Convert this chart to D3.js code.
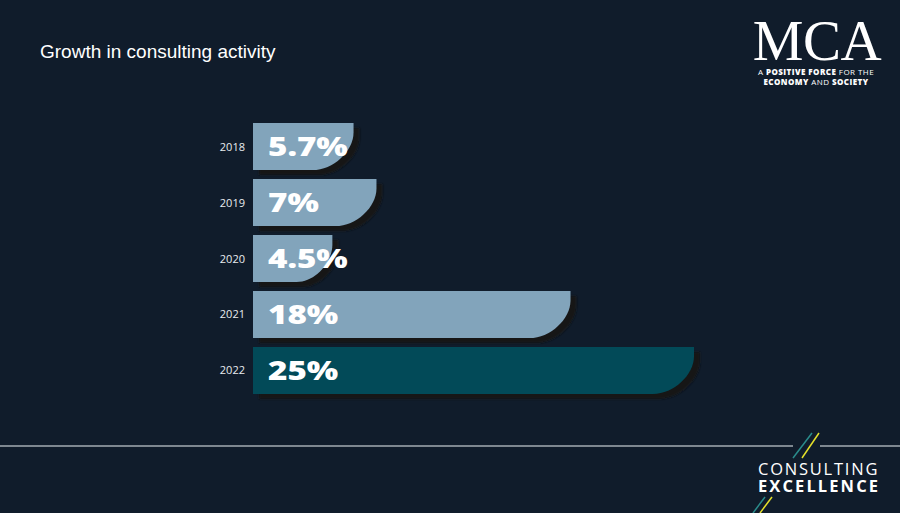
<!DOCTYPE html>
<html><head><meta charset="utf-8">
<script src="https://cdn.jsdelivr.net/npm/d3@7"></script>
<style>
html,body{margin:0;padding:0;background:#101c2b;}
svg{display:block;}
</style></head>
<body>
<script>
const years = ["2018","2019","2020","2021","2022"];
const growth = [5.7, 7, 4.5, 18, 25];
const valueLabels = ["5.7%","7%","4.5%","18%","25%"];
const highlightYear = "2022";

const W = 900, H = 513;
const svg = d3.select("body").append("svg").attr("width", W).attr("height", H);
svg.append("rect").attr("width", W).attr("height", H).attr("fill", "#101c2b");

const defs = svg.append("defs");
const f = defs.append("filter").attr("id","blur").attr("x","-10%").attr("y","-20%").attr("width","130%").attr("height","150%");
f.append("feGaussianBlur").attr("stdDeviation", 1.2);

// Title
svg.append("text").attr("x", 40).attr("y", 58)
  .attr("font-family", "Liberation Sans, Arial, sans-serif").attr("font-size", 19)
  .attr("fill", "#ffffff").text("Growth in consulting activity");

const x0 = 253;
const x = d3.scaleLinear().domain([0, 25]).range([x0, 694]);
const y = d3.scaleBand().domain(years).range([123, 394]).paddingInner(0.16).paddingOuter(0);

function barPath(w, top, h) {
  const rx = Math.min(41, w * 0.45), ry = h * 0.8;
  const k = 0.5;
  const p = d3.path();
  p.moveTo(x0, top);
  p.lineTo(x0 + w, top);
  p.lineTo(x0 + w, top + h - ry);
  p.bezierCurveTo(x0 + w, top + h - ry * (1 - k), x0 + w - rx * (1 - k), top + h, x0 + w - rx, top + h);
  p.lineTo(x0, top + h);
  p.closePath();
  return p.toString();
}

const g = svg.append("g");
const rows = years.map((yr, i) => ({ yr, v: growth[i], lab: valueLabels[i] }));

// shadows
g.selectAll("path.shadow").data(rows).join("path").attr("class", "shadow")
  .attr("d", d => barPath(x(d.v) - x0, y(d.yr), y.bandwidth()))
  .attr("transform", "translate(6,5)")
  .attr("fill", "#141619").attr("filter", "url(#blur)");

// bars
g.selectAll("path.bar").data(rows).join("path").attr("class", "bar")
  .attr("d", d => barPath(x(d.v) - x0, y(d.yr), y.bandwidth()))
  .attr("fill", d => d.yr === highlightYear ? "#024a58" : "#82a4bb");

// year labels
g.selectAll("text.yr").data(rows).join("text").attr("class", "yr")
  .attr("x", 245).attr("y", d => y(d.yr) + y.bandwidth() / 2 + 4)
  .attr("text-anchor", "end")
  .attr("font-family", "Open Sans, sans-serif").attr("font-size", 11)
  .attr("fill", "#e8ecef").text(d => d.yr);

// value labels (wide heavy type, stretched horizontally)
g.selectAll("text.val").data(rows).join("text").attr("class", "val")
  .attr("transform", d => `translate(268,${y(d.yr) + y.bandwidth() / 2 + 9.5}) scale(1.25,1)`)
  .attr("font-family", "Open Sans, sans-serif").attr("font-weight", 800)
  .attr("font-size", 26.5)
  .attr("fill", "#ffffff").text(d => d.lab);

// MCA logo
svg.append("text").attr("x", 817).attr("y", 60).attr("text-anchor", "middle")
  .attr("font-family", "Liberation Serif, serif").attr("font-size", 57)
  .attr("letter-spacing", "-0.5")
  .attr("fill", "#ffffff").text("MCA");

function richLine(parts, cx, yy) {
  const gg = svg.append("g");
  const items = parts.map(([txt, bold]) => gg.append("text")
    .attr("y", yy)
    .attr("font-family", "Open Sans, sans-serif").attr("font-size", 8)
    .attr("letter-spacing", "0.45")
    .attr("font-weight", bold ? 800 : 400)
    .attr("fill", "#ffffff").text(txt));
  const widths = items.map(t => t.node().getComputedTextLength());
  const gap = 2.5;
  const total = d3.sum(widths) + gap * (items.length - 1);
  let cur = cx - total / 2;
  items.forEach((t, i) => { t.attr("x", cur); cur += widths[i] + gap; });
}
richLine([["A", false], ["POSITIVE FORCE", true], ["FOR THE", false]], 816, 74.5);
richLine([["ECONOMY", true], ["AND", false], ["SOCIETY", true]], 816, 85);

// footer line
svg.append("line").attr("x1", 0).attr("x2", 793).attr("y1", 446).attr("y2", 446)
  .attr("stroke", "#a3abb3").attr("stroke-width", 1.5);
svg.append("line").attr("x1", 820).attr("x2", 900).attr("y1", 446).attr("y2", 446)
  .attr("stroke", "#a3abb3").attr("stroke-width", 1.5);
// slashes
const sl = [
  [793, 458, 812, 433, "#2a8c8c"], [802, 458, 819, 433, "#e5e02a"],
  [753, 513, 765, 497, "#2a8c8c"], [760, 513, 772, 497, "#e5e02a"]
];
svg.selectAll("line.sl").data(sl).join("line").attr("class", "sl")
  .attr("x1", d => d[0]).attr("y1", d => d[1]).attr("x2", d => d[2]).attr("y2", d => d[3])
  .attr("stroke", d => d[4]).attr("stroke-width", 1.5);

svg.append("text").attr("x", 758).attr("y", 475)
  .attr("font-family", "Open Sans, sans-serif").attr("font-size", 16.5).attr("letter-spacing", "0.6")
  .attr("textLength", 120).attr("fill", "#ffffff").text("CONSULTING");
svg.append("text").attr("x", 758).attr("y", 492)
  .attr("font-family", "Open Sans, sans-serif").attr("font-size", 16.5).attr("font-weight", 700)
  .attr("textLength", 120).attr("fill", "#ffffff").text("EXCELLENCE");
</script>
</body></html>
